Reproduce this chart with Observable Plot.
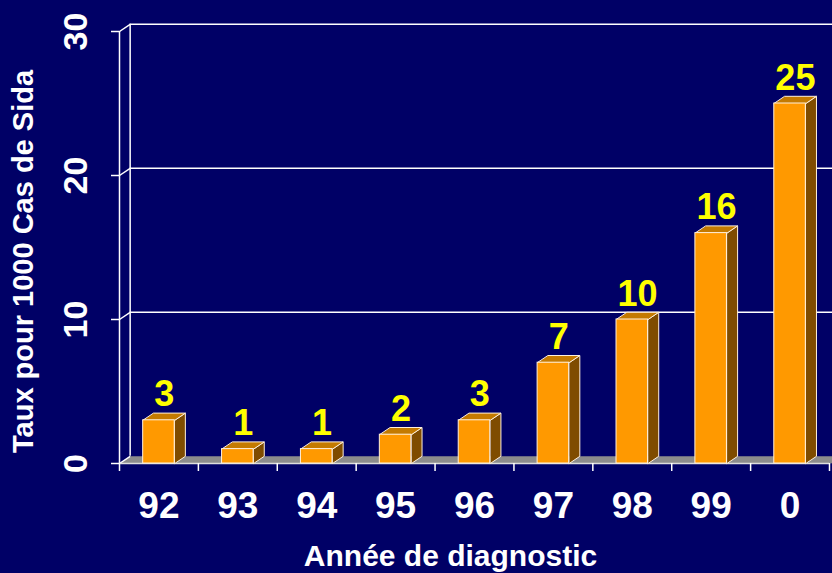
<!DOCTYPE html>
<html>
<head>
<meta charset="utf-8">
<script src="https://cdn.jsdelivr.net/npm/d3@7"></script>
<script src="https://cdn.jsdelivr.net/npm/@observablehq/plot@0.6"></script>
<style>
  html, body { margin: 0; padding: 0; background: #000066; }
  #chart { width: 832px; height: 573px; overflow: hidden; }
</style>
</head>
<body>
<div id="chart"></div>
<script>
// ---- data ----
const years = ["92", "93", "94", "95", "96", "97", "98", "99", "0"];
const rates = [3, 1, 1, 2, 3, 7, 10, 16, 25];
const yTicks = [0, 10, 20, 30];
const gridValues = [10, 20, 30];
const yTitle = "Taux pour 1000 Cas de Sida";
const xTitle = "Année de diagnostic";

// ---- 3D geometry (in data units) ----
const DX = 0.135, DY = 0.5, HW = 0.2;
const xMin = -0.5, xMax = years.length - 0.5;
const bars = rates.map((v, i) => ({i, v}));
const boundaries = d3.range(years.length + 1).map(k => k - 0.5);
const poly = (id, pts) => pts.map(([x, y]) => ({id, x, y}));
const tops = bars.flatMap(({i, v}) => poly(i, [[i - HW, v], [i + HW, v], [i + HW + DX, v + DY], [i - HW + DX, v + DY]]));
const sides = bars.flatMap(({i, v}) => poly(i, [[i + HW, 0], [i + HW + DX, DY], [i + HW + DX, v + DY], [i + HW, v]]));
const floor = poly(0, [[xMin, 0], [xMax, 0], [xMax + DX + 1, DY], [xMin + DX, DY]]);

const FONT = "'Liberation Sans', Arial, Helvetica, sans-serif";
const EDGE = "#fff0dc";

const chart = Plot.plot({
  width: 832,
  height: 573,
  marginLeft: 119,
  marginRight: 3,
  marginTop: 31,
  marginBottom: 110,
  style: {background: "#000066", color: "white", fontFamily: FONT},
  x: {type: "linear", domain: [xMin, xMax]},
  y: {domain: [0, 30]},
  marks: [
    // floor
    Plot.line(floor, {x: "x", y: "y", curve: "linear-closed", fill: "#8c8c8c", stroke: "none"}),
    // back wall gridlines
    Plot.ruleY(gridValues, {y: d => d + DY, x1: xMin + DX, x2: xMax + DX + 1, stroke: "white", strokeWidth: 1.5}),
    // back wall left edge
    Plot.ruleX([xMin + DX], {y1: DY, y2: 30 + DY, stroke: "white", strokeWidth: 1.5}),
    // connectors front -> back
    Plot.link(yTicks, {x1: xMin, y1: d => d, x2: xMin + DX, y2: d => d + DY, stroke: "white", strokeWidth: 1.5}),
    // front axis line
    Plot.ruleX([xMin], {y1: 0, y2: 30, stroke: "white", strokeWidth: 1.5}),
    // floor front edge
    Plot.ruleY([0], {stroke: "#dddddd", strokeWidth: 1.5}),
    // axes ticks
    Plot.axisY({ticks: yTicks, tickSize: 8, tickFormat: () => "", label: null, stroke: "white", strokeWidth: 1.5}),
    Plot.axisX({ticks: boundaries, tickSize: 8, tickFormat: () => "", label: null, stroke: "white", strokeWidth: 1.5}),
    // bars: side, top, front
    Plot.line(sides, {x: "x", y: "y", z: "id", curve: "linear-closed", fill: "#7f4c00", stroke: EDGE, strokeWidth: 1}),
    Plot.line(tops, {x: "x", y: "y", z: "id", curve: "linear-closed", fill: "#c47a00", stroke: EDGE, strokeWidth: 1}),
    Plot.rect(bars, {x1: d => d.i - HW, x2: d => d.i + HW, y1: 0, y2: "v", fill: "#ff9900", stroke: EDGE, strokeWidth: 1}),
    // value labels
    Plot.text(bars, {x: d => d.i + DX / 2, y: "v", text: d => String(d.v), dy: -14, lineAnchor: "bottom",
      fill: "#ffff00", fontSize: 36, fontWeight: "bold"}),
    // x tick labels
    Plot.text(years, {x: (d, i) => i, y: 0, text: d => d, dy: 54, lineAnchor: "bottom",
      fill: "white", fontSize: 37, fontWeight: "bold"}),
    // y tick labels (rotated)
    Plot.text(yTicks, {x: xMin, y: d => d, text: d => String(d), rotate: -90, dx: -43.5,
      textAnchor: "middle", lineAnchor: "middle", fill: "white", fontSize: 34, fontWeight: "bold"}),
    // titles
    Plot.text([yTitle], {frameAnchor: "left", text: d => d, rotate: -90, dx: -96, dy: 14,
      textAnchor: "middle", lineAnchor: "middle", fill: "white", fontSize: 29, fontWeight: "bold"}),
    Plot.text([xTitle], {frameAnchor: "bottom", text: d => d, dx: -24, dy: 102, lineAnchor: "bottom",
      fill: "white", fontSize: 30, fontWeight: "bold"})
  ]
});
document.getElementById("chart").appendChild(chart);
</script>
</body>
</html>
